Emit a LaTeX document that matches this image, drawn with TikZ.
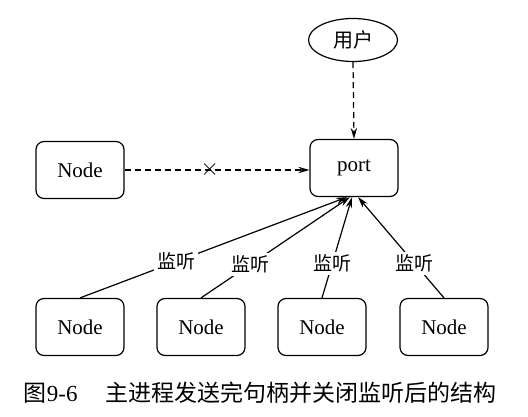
\documentclass[tikz,border=0pt]{standalone}
\usepackage{fontspec}
\setmainfont{Liberation Serif}
\newfontfamily\cjk{Noto Sans CJK SC}
\newfontfamily\serifnum{Liberation Serif}
\usetikzlibrary{arrows.meta}
\usetikzlibrary{shapes.geometric}

\begin{document}
\begin{tikzpicture}[x=0.5pt,y=-0.5pt,>={Stealth[length=5.5pt,width=3.2pt]},
    box/.style={draw,line width=0.6pt,rounded corners=4pt,minimum width=44pt,minimum height=28.5pt,font=\fontsize{10.5}{12}\selectfont},
    user/.style={draw,line width=0.6pt,ellipse,minimum width=44.5pt,minimum height=21.5pt,inner sep=0pt,font=\fontsize{10}{12}\cjk},
    listen/.style={fill=white,inner sep=1.5pt,font=\fontsize{9.5}{11}\cjk},
    dashline/.style={line width=0.6pt,dash pattern=on 3pt off 2pt}]
                        \useasboundingbox (0,0) rectangle (528,416);
                        \node[user] (yonghu) at (353,40) {用户};
                        \node[box] (port) at (354,168) {port};
                        \node[box] (left) at (80,170) {Node};
                        \node[box] (n1) at (80,327) {Node};
                        \node[box] (n2) at (201,327) {Node};
                        \node[box] (n3) at (322,327) {Node};
                        \node[box] (n4) at (444,327) {Node};
                        % user -> port
                        \draw[dashline,->] (yonghu.south) -- (port.north);
                        % closed link
                        \draw[dashline,->] (left.east) -- (left.east -| port.west)
                            node[pos=0.46,inner sep=0pt,font=\fontsize{13}{14}\selectfont] {$\times$};
                        % listeners
                        \draw[line width=0.6pt,->] (n1.north) -- ([xshift=-3.5pt]port.south)
                            node[listen,pos=0.36] {监听};
                        \draw[line width=0.6pt,->] (n2.north) -- ([xshift=-2pt]port.south)
                            node[listen,pos=0.33] {监听};
                        \draw[line width=0.6pt,->] (n3.north) -- ([xshift=-1pt]port.south)
                            node[listen,pos=0.34] {监听};
                        \draw[line width=0.6pt,->] (n4.north) -- ([xshift=2pt]port.south)
                            node[listen,pos=0.34] {监听};
                        \node[font=\fontsize{11.5}{14}\cjk] (caption) at (260,393)
                            {图{\serifnum 9-6}\hspace{1.2em}主进程发送完句柄并关闭监听后的结构};
                    \end{tikzpicture}
\end{document}
